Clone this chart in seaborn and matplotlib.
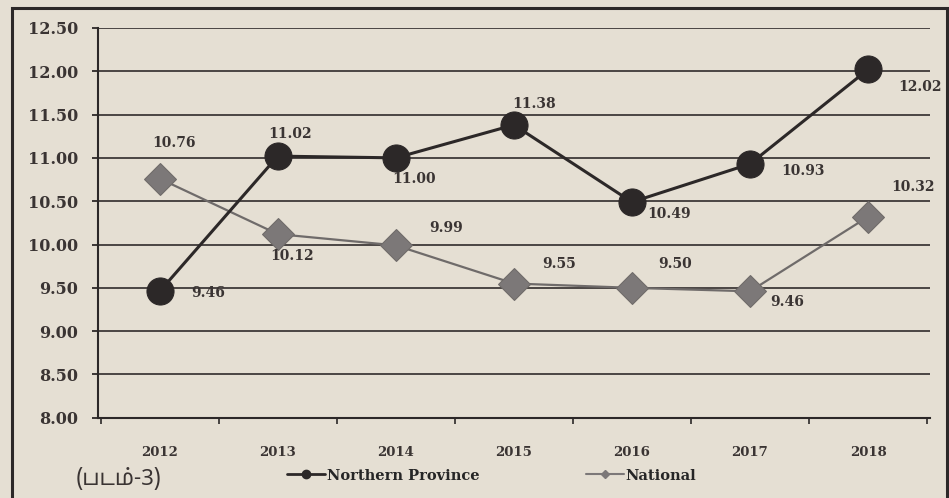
import pandas as pd
import matplotlib.pyplot as plt
import seaborn as sns
from matplotlib.lines import Line2D
from matplotlib.patches import Rectangle

#%% data
years = ["2012", "2013", "2014", "2015", "2016", "2017", "2018"]
northern = [9.46, 11.02, 11.00, 11.38, 10.49, 10.93, 12.02]
national = [10.76, 10.12, 9.99, 9.55, 9.50, 9.46, 10.32]
# label offsets in pixels (dx, dy)
north_off = [(48, -2), (12, 22), (18, -21), (20, 21), (37, -12), (53, -7), (52, -18)]
nat_off = [(14, 36), (14, -22), (50, 17), (45, 20), (43, 24), (37, -11), (45, 30)]
figure_label = "(படம்-3)"

df = pd.DataFrame({"year": years * 2,
                   "value": northern + national,
                   "series": ["Northern Province"] * 7 + ["National"] * 7})

paper = "#e5dfd3"
dark = "#2c2828"
grey = "#7c7878"
txt = "#3a3433"

#%% plot
sns.set_style("white")
plt.rcParams["font.family"] = ["DejaVu Serif"]
plt.rcParams["font.weight"] = "bold"

fig = plt.figure(figsize=(9.49, 4.98), dpi=100, facecolor=paper)
ax = fig.add_axes([0.103, 0.161, 0.877, 0.783])
ax.set_facecolor(paper)

nat = df[df["series"] == "National"]
nor = df[df["series"] == "Northern Province"]
sns.lineplot(data=nat, x="year", y="value", ax=ax, color="#6f6b6a", lw=1.6,
             marker="D", markersize=16, markerfacecolor=grey,
             markeredgecolor="#6e6a69", sort=False)
sns.lineplot(data=nor, x="year", y="value", ax=ax, color=dark, lw=2.2,
             marker="o", markersize=19.5, markerfacecolor=dark,
             markeredgecolor=dark, sort=False)

for i, (v, o) in enumerate(zip(northern, north_off)):
    ax.annotate(f"{v:.2f}", (i, v), xytext=o, textcoords="offset pixels",
                ha="center", va="center", fontsize=10, fontweight="bold",
                color=txt)
for i, (v, o) in enumerate(zip(national, nat_off)):
    ax.annotate(f"{v:.2f}", (i, v), xytext=o, textcoords="offset pixels",
                ha="center", va="center", fontsize=10, fontweight="bold",
                color=txt)

ax.set_ylim(8.0, 12.5)
ax.set_yticks([8 + 0.5 * k for k in range(10)])
ax.set_yticklabels([f"{8 + 0.5 * k:.2f}" for k in range(10)], fontsize=11.5,
                   fontweight="bold", color=txt)
ax.set_xlim(-0.525, 6.525)
ax.set_xticks(range(7))
ax.set_xticks([k + 0.5 for k in range(-1, 7)], minor=True)
ax.tick_params(axis="x", which="major", labelsize=9.5, colors=txt, pad=20,
               length=0, bottom=True)
ax.tick_params(axis="x", which="minor", length=4, width=1.2, color=dark,
               direction="out", bottom=True)
ax.tick_params(axis="y", length=4, width=1.3, color=dark, direction="out",
               pad=10, left=True)
for lab in ax.get_xticklabels():
    lab.set_fontweight("bold")
ax.yaxis.grid(True, color="#4a4544", lw=1.4)
ax.set_axisbelow(True)
ax.set_xlabel("")
ax.set_ylabel("")
sns.despine(ax=ax, top=True, right=True)
ax.spines["left"].set_color(dark)
ax.spines["left"].set_linewidth(1.5)
ax.spines["bottom"].set_color(dark)
ax.spines["bottom"].set_linewidth(1.5)

handles = [Line2D([], [], color=dark, lw=2, marker="o", markersize=6),
           Line2D([], [], color=grey, lw=1.5, marker="D", markersize=4)]
fig.legend(handles, ["Northern Province", "National"], loc="center",
           bbox_to_anchor=(0.518, 0.045), ncol=2, frameon=False,
           handlelength=2.6, handletextpad=0.1, columnspacing=7.3,
           prop={"size": 10.5, "weight": "bold"})

fig.text(0.125, 0.04, figure_label, ha="center", va="center", fontsize=16,
         color=txt, family=["Noto Sans Tamil", "Lohit Tamil", "Noto Sans", "DejaVu Sans"])

fig.patches.append(Rectangle((0.013, -0.05), 0.985, 1.034, transform=fig.transFigure,
                             fill=False, edgecolor=dark, lw=2.2))

fig.savefig("out.png", dpi=100, facecolor=paper)
